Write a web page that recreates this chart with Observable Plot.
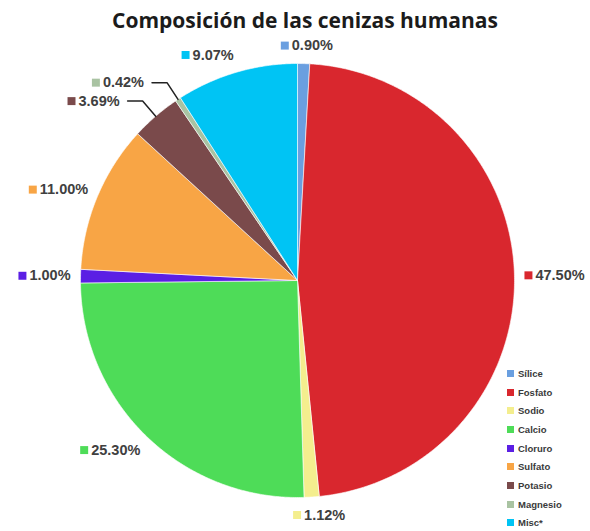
<!DOCTYPE html>
<html><head><meta charset="utf-8">
<script src="https://cdn.jsdelivr.net/npm/d3@7"></script>
<script src="https://cdn.jsdelivr.net/npm/@observablehq/plot@0.6"></script>
<style>
body{margin:0;background:#fff;}
#wrap{position:relative;width:590px;height:531px;overflow:hidden;}
#title{position:absolute;z-index:2;left:0;top:8px;width:610px;text-align:center;font-family:"Open Sans",sans-serif;font-weight:bold;font-size:21px;line-height:24px;color:#1b1b1b;}
#chart{position:absolute;z-index:1;left:0;top:32px;}
#chart svg{background:transparent;}
#legend{position:absolute;z-index:2;left:507px;top:364px;}
.li{display:flex;align-items:center;height:18.7px;font-family:Arial,"Liberation Sans",sans-serif;font-weight:bold;font-size:9.5px;color:#3a3a3a;}
.sw{width:7px;height:7px;margin-right:4px;}
</style></head><body>
<div id="wrap">
<div id="chart"></div>
<div id="title">Composición de las cenizas humanas</div>
<div id="legend"></div>
</div>
<script>
const categories = ["Sílice","Fosfato","Sodio","Calcio","Cloruro","Sulfato","Potasio","Magnesio","Misc*"];
const percentages = [0.90, 47.50, 1.12, 25.30, 1.00, 11.00, 3.69, 0.42, 9.07];
const percentLabels = ["0.90%","47.50%","1.12%","25.30%","1.00%","11.00%","3.69%","0.42%","9.07%"];
const colors = ["#6a9fe0","#d9272e","#f4ee8e","#4edc58","#5b1fe4","#f8a545","#7a4a4b","#a9c3a2","#00c4f4"];
const leaderCategories = ["Potasio","Magnesio"];

// layout
const W = 590, H = 499;
const cx = 297, cy = 248, r = 217;
const labelFont = "bold 14.5px Arial";

const ctx = document.createElement("canvas").getContext("2d");
ctx.font = labelFont;

const total = d3.sum(percentages);
const slicePts = [];
const labelRows = [];
const leaderPts = [];
let acc = 0;
const pt = (ang, rad) => ({x: cx + rad * Math.sin(ang), y: cy - rad * Math.cos(ang)});
categories.forEach((name, i) => {
  const a0 = acc / total * 2 * Math.PI;
  acc += percentages[i];
  const a1 = acc / total * 2 * Math.PI;
  const n = Math.max(2, Math.ceil((a1 - a0) / (Math.PI / 360)));
  slicePts.push({name, ...pt(0, 0)});
  for (let k = 0; k <= n; k++) slicePts.push({name, ...pt(a0 + (a1 - a0) * k / n, r)});
  slicePts.push({name, ...pt(0, 0)});
  const am = (a0 + a1) / 2;
  const tw = ctx.measureText(percentLabels[i]).width;
  const w = 11 + tw, h = 16;
  let left, ly;
  if (leaderCategories.includes(name)) {
    const e = pt(am, r), el = pt(am, r + 20);
    const hx = el.x - 15;
    leaderPts.push({name, x: e.x, y: e.y}, {name, x: el.x, y: el.y}, {name, x: hx, y: el.y});
    left = hx - 8 - w;
    ly = el.y;
  } else {
    const p = pt(am, r + 10);
    const f = Math.min(1, Math.max(0, 0.5 - 2 * Math.sin(am)));
    left = p.x - f * w;
    ly = p.y - h * Math.cos(am) / 2;
  }
  labelRows.push({name, label: percentLabels[i], sx: left + 4, tx: left + 11, y: ly});
});

const chart = Plot.plot({
  width: W, height: H,
  margin: 0,
  style: {background: "transparent"},
  x: {domain: [0, W], range: [0, W], axis: null},
  y: {domain: [0, H], range: [0, H], axis: null},
  color: {domain: categories, range: colors},
  marks: [
    Plot.line(slicePts, {x: "x", y: "y", z: "name", fill: "name", stroke: "white", strokeWidth: 0.6, curve: "linear"}),
    Plot.line(leaderPts, {x: "x", y: "y", z: "name", stroke: "#222", strokeWidth: 1.5, curve: "linear"}),
    Plot.dot(labelRows, {x: "sx", y: "y", fill: "name", symbol: "square", r: 4.5}),
    Plot.text(labelRows, {x: "tx", y: "y", text: "label", textAnchor: "start", fontSize: 14.5, fontWeight: "bold", fill: "#404040", fontFamily: "Arial, 'Liberation Sans', sans-serif"})
  ]
});
document.getElementById("chart").appendChild(chart);

const legend = document.getElementById("legend");
categories.forEach((c, i) => {
  const row = document.createElement("div");
  row.className = "li";
  const sw = document.createElement("span");
  sw.className = "sw";
  sw.style.background = colors[i];
  row.appendChild(sw);
  row.appendChild(document.createTextNode(c));
  legend.appendChild(row);
});
</script>
</body></html>
